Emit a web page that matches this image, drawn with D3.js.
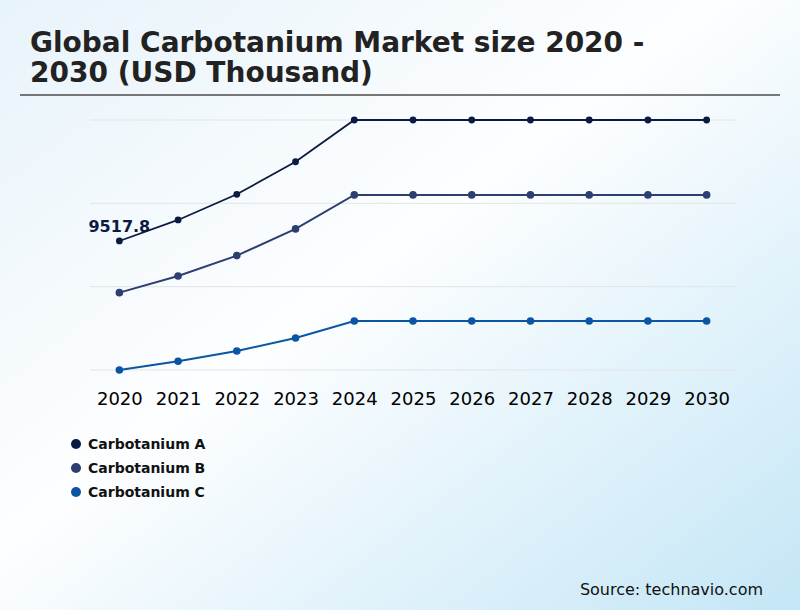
<!DOCTYPE html>
<html>
<head>
<meta charset="utf-8">
<script src="https://cdn.jsdelivr.net/npm/d3@7"></script>
<style>
    body { margin: 0; }
    svg { display: block; font-family: "DejaVu Sans", sans-serif; }
</style>
</head>
<body>
<div id="chart"></div>
<script>
// values (no y labels shown, so scale is estimated)
const years = ["2020", "2021", "2022", "2023", "2024", "2025", "2026", "2027", "2028", "2029", "2030"];
const seriesNames = ["Carbotanium A", "Carbotanium B", "Carbotanium C"];
const carbotaniumA = [9517.8, 10550, 11810, 13410, 15460, 15460, 15460, 15460, 15460, 15460, 15460];
const carbotaniumB = [6980, 7800, 8800, 10110, 11780, 11780, 11780, 11780, 11780, 11780, 11780];
const carbotaniumC = [3180, 3610, 4110, 4750, 5590, 5590, 5590, 5590, 5590, 5590, 5590];
const seriesColors = ["#0b1a40", "#2d3e70", "#0a56a3"];

const width = 800;
const height = 610;

const series = seriesNames.map((name, i) => ({
    name: name,
    values: [carbotaniumA, carbotaniumB, carbotaniumC][i],
    color: seriesColors[i],
}));

const svg = d3
    .select("#chart")
    .append("svg")
    .attr("width", width)
    .attr("height", height);

// background gradient
const grad = svg
    .append("defs")
    .append("linearGradient")
    .attr("id", "bg")
    .attr("x1", "0%")
    .attr("y1", "0%")
    .attr("x2", "100%")
    .attr("y2", "100%");
grad.append("stop").attr("offset", "0%").attr("stop-color", "#e7f3fa");
grad.append("stop").attr("offset", "45%").attr("stop-color", "#fdfeff");
grad.append("stop").attr("offset", "100%").attr("stop-color", "#c4e6f6");
svg.append("rect").attr("width", width).attr("height", height).attr("fill", "url(#bg)");

// title
const title = svg.append("text")
    .attr("x", 30)
    .attr("y", 52)
    .style("font-size", "28px")
    .style("font-weight", "bold")
    .style("fill", "#222");
title.append("tspan").attr("x", 30).text("Global Carbotanium Market size 2020 -");
title.append("tspan").attr("x", 30).attr("dy", 30).text("2030 (USD Thousand)");

svg.append("line")
    .attr("x1", 20)
    .attr("x2", 780)
    .attr("y1", 95)
    .attr("y2", 95)
    .attr("stroke", "#777")
    .attr("stroke-width", 2);

// scales
const xScale = d3.scalePoint().domain(years).range([90, 736]).padding(0.5);
const yMin = d3.min(carbotaniumC);
const yMax = d3.max(carbotaniumA);
const yScale = d3.scaleLinear().domain([yMin, yMax]).range([370, 120]);

// gridlines
const gridValues = d3.range(4).map((i) => yMin + (i * (yMax - yMin)) / 3);
svg.append("g")
    .selectAll("line")
    .data(gridValues)
    .join("line")
    .attr("x1", 90)
    .attr("x2", 736)
    .attr("y1", (d) => yScale(d))
    .attr("y2", (d) => yScale(d))
    .attr("stroke", "#e2e4e6")
    .attr("stroke-width", 1);

// x axis labels
const xAxis = svg.append("g")
    .attr("transform", "translate(0, 388)")
    .call(d3.axisBottom(xScale).tickSize(0).tickPadding(4));
xAxis.select(".domain").remove();
xAxis.selectAll("text")
    .style("font-size", "18px")
    .style("font-family", "DejaVu Sans, sans-serif")
    .attr("fill", "#000");

// lines + dots
const line = d3
    .line()
    .x((d, i) => xScale(years[i]))
    .y((d) => yScale(d));

const groups = svg
    .selectAll(".series")
    .data(series)
    .join("g")
    .attr("class", "series");

groups.append("path")
    .attr("d", (d) => line(d.values))
    .attr("fill", "none")
    .attr("stroke", (d) => d.color)
    .attr("stroke-width", (d, i) => (i === 0 ? 1.8 : 2));

groups.selectAll("circle")
    .data((d, si) => d.values.map((v, i) => ({ v: v, year: years[i], color: d.color, si: si })))
    .join("circle")
    .attr("cx", (d) => xScale(d.year))
    .attr("cy", (d) => yScale(d.v))
    .attr("r", (d) => (d.si === 0 ? 3.4 : 3.8))
    .attr("fill", (d) => d.color);

// first value label
svg.append("text")
    .attr("x", xScale(years[0]))
    .attr("y", yScale(carbotaniumA[0]) - 9)
    .attr("text-anchor", "middle")
    .style("font-size", "16px")
    .style("font-weight", "bold")
    .style("fill", seriesColors[0])
    .text(d3.format(".1f")(carbotaniumA[0]));

// legend
const legend = svg
    .selectAll(".legend")
    .data(series)
    .join("g")
    .attr("class", "legend")
    .attr("transform", (d, i) => `translate(76, ${444 + i * 24})`);
legend.append("circle").attr("r", 5).attr("fill", (d) => d.color);
legend.append("text")
    .attr("x", 12)
    .attr("y", 5)
    .style("font-size", "14px")
    .style("font-weight", "bold")
    .style("fill", "#111")
    .text((d) => d.name);

// source
svg.append("text")
    .attr("x", 763)
    .attr("y", 595)
    .attr("text-anchor", "end")
    .style("font-size", "16px")
    .style("fill", "#111")
    .text("Source: technavio.com");
</script>
</body>
</html>
